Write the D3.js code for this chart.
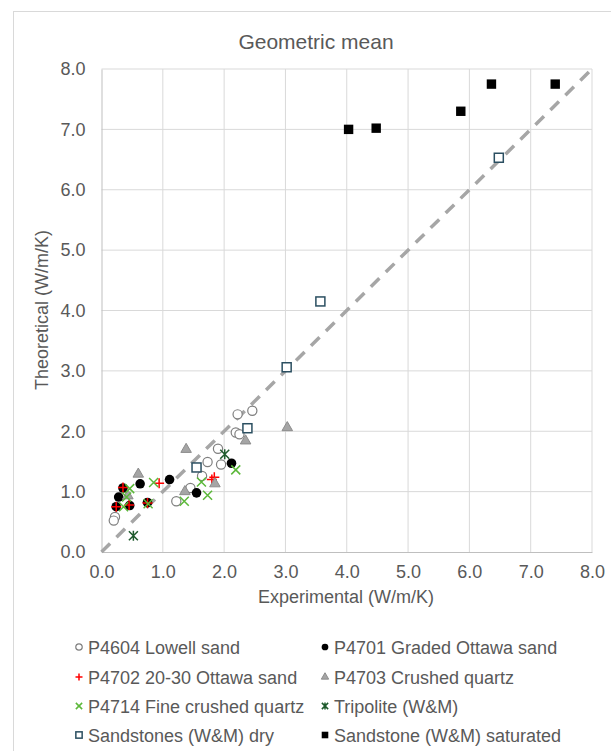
<!DOCTYPE html>
<html>
<head>
<meta charset="utf-8">
<script src="https://d3js.org/d3.v7.min.js"></script>
<style>
body { margin: 0; background: #fff; }
text { font-family: "Liberation Sans", Arial, sans-serif; fill: #595959; }
</style>
</head>
<body>
<svg id="chart" width="611" height="751"></svg>
<script>
// data, [experimental, theoretical]
var lowell = [[2.22,2.28],[2.46,2.34],[2.19,1.98],[2.25,1.95],[1.90,1.71],[1.73,1.49],[1.95,1.45],[1.64,1.26],[1.45,1.06],[1.22,0.84],[0.22,0.58],[0.20,0.52]]
var graded = [[0.35,1.06],[0.63,1.13],[1.11,1.20],[0.28,0.91],[0.24,0.75],[0.46,0.77],[0.75,0.82],[1.55,0.98],[2.12,1.47]]
var ottawa2030 = [[0.35,1.07],[0.94,1.14],[0.24,0.75],[0.45,0.78],[0.75,0.81],[1.80,1.20],[1.84,1.24]]
var crushed = [[3.03,2.06],[2.35,1.84],[1.38,1.70],[0.60,1.29],[1.85,1.13],[1.36,1.00],[0.43,0.93]]
var fineCrushed = [[0.46,1.05],[0.85,1.15],[0.41,0.91],[0.36,0.75],[0.76,0.80],[1.63,1.16],[1.73,0.94],[1.35,0.84],[2.19,1.36]]
var tripolite = [[0.52,0.27],[2.01,1.62]]
var sandDry = [[6.48,6.53],[3.57,4.15],[3.02,3.06],[2.38,2.05],[1.55,1.40]]
var sandSat = [[4.03,7.00],[4.48,7.02],[5.86,7.30],[6.36,7.75],[7.40,7.75]]
var seriesNames = ["P4604 Lowell sand","P4701 Graded Ottawa sand","P4702 20-30 Ottawa sand","P4703 Crushed quartz",
    "P4714 Fine crushed quartz","Tripolite (W&M)","Sandstones (W&M) dry","Sandstone (W&M) saturated"]
var ticks = [0,1,2,3,4,5,6,7,8]

var svg = d3.select("#chart")
var x = d3.scaleLinear().domain([0, 8]).range([101.5, 592])
var y = d3.scaleLinear().domain([0, 8]).range([552, 69])

// outer chart border (runs off the right and bottom)
svg.append("rect").attr("x", 13.5).attr("y", 11.5).attr("width", 640).attr("height", 780)
    .style("fill", "#fff").style("stroke", "#d9d9d9")

svg.append("text").attr("x", 316).attr("y", 49).attr("text-anchor", "middle")
    .style("font-size", "21px").text("Geometric mean")

// gridlines
svg.append("g").selectAll("line").data(ticks.slice(1)).join("line")
    .attr("x1", d => x(d)).attr("x2", d => x(d)).attr("y1", y(0)).attr("y2", y(8))
    .style("stroke", "#d9d9d9")
svg.append("g").selectAll("line").data(ticks.slice(1)).join("line")
    .attr("y1", d => y(d)).attr("y2", d => y(d)).attr("x1", x(0)).attr("x2", x(8))
    .style("stroke", "#d9d9d9")

var xAxis = svg.append("g").attr("transform", "translate(0," + y(0) + ")")
    .call(d3.axisBottom(x).tickValues(ticks).tickFormat(d3.format(".1f")).tickSize(0).tickPadding(13))
var yAxis = svg.append("g").attr("transform", "translate(" + x(0) + ",0)")
    .call(d3.axisLeft(y).tickValues(ticks).tickFormat(d3.format(".1f")).tickSize(0).tickPadding(16))
xAxis.select(".domain").style("stroke", "#bfbfbf")
yAxis.select(".domain").style("stroke", "#bfbfbf")
svg.selectAll(".tick text").style("font-size", "18px").style("fill", "#595959").attr("font-family", null)

svg.append("text").attr("x", 346).attr("y", 603).attr("text-anchor", "middle")
    .style("font-size", "18px").text("Experimental (W/m/K)")
svg.append("text").attr("transform", "translate(48,310) rotate(-90)").attr("text-anchor", "middle")
    .style("font-size", "18px").text("Theoretical (W/m/K)")

// 1:1 line
svg.append("line").attr("x1", x(0)).attr("y1", y(0)).attr("x2", x(8)).attr("y2", y(8))
    .style("stroke", "#a6a6a6").style("stroke-width", 3.5).style("stroke-dasharray", "12,9")

// marker painters, s = scale
var markers = [
    function(g, s) { g.append("circle").attr("r", 4.6 * s).style("fill", "#fff").style("stroke", "#7f7f7f").style("stroke-width", 1.2) },
    function(g, s) { g.append("circle").attr("r", 4.8 * s).style("fill", "#000") },
    function(g, s) { g.append("path").attr("d", d3.line()([[-5*s,0],[5*s,0]]) + d3.line()([[0,-5*s],[0,5*s]]))
        .style("stroke", "#ff0000").style("stroke-width", 1.5) },
    function(g, s) { g.append("path").attr("d", d3.symbol(d3.symbolTriangle, 48 * s * s)())
        .style("fill", "#a5a5a5").style("stroke", "#8c8c8c") },
    function(g, s) { g.append("path").attr("d", d3.line()([[-4.5*s,-4.5*s],[4.5*s,4.5*s]]) + d3.line()([[-4.5*s,4.5*s],[4.5*s,-4.5*s]]))
        .style("stroke", "#5cb83a").style("stroke-width", 1.5) },
    function(g, s) { g.append("path").attr("d", d3.line()([[-4.5*s,-4.5*s],[4.5*s,4.5*s]]) + d3.line()([[-4.5*s,4.5*s],[4.5*s,-4.5*s]]) + d3.line()([[0,-5*s],[0,5*s]]))
        .style("stroke", "#1e5a2c").style("stroke-width", 1.5) },
    function(g, s) { g.append("rect").attr("x", -4.5*s).attr("y", -4.5*s).attr("width", 9*s).attr("height", 9*s)
        .style("fill", "#fff").style("stroke", "#2b4f61").style("stroke-width", 1.5) },
    function(g, s) { g.append("rect").attr("x", -4.7*s).attr("y", -4.7*s).attr("width", 9.4*s).attr("height", 9.4*s)
        .style("fill", "#000") }
]
var allSeries = [lowell, graded, ottawa2030, crushed, fineCrushed, tripolite, sandDry, sandSat]

allSeries.forEach(function(data, i) {
    svg.append("g").selectAll("g").data(data).join("g")
        .attr("transform", d => "translate(" + x(d[0]) + "," + y(d[1]) + ")")
        .each(function() { markers[i](d3.select(this), 1) })
})

// legend, two columns
var legendCols = [79, 325]
var legendRows = [647, 677, 706, 735]
seriesNames.forEach(function(name, i) {
    var lx = legendCols[i % 2], ly = legendRows[Math.floor(i / 2)]
    var g = svg.append("g").attr("transform", "translate(" + lx + "," + ly + ")")
    markers[i](g, 0.7)
    g.append("text").attr("x", 9).attr("y", 6.5).style("font-size", "18px").text(name)
})
</script>
</body>
</html>
